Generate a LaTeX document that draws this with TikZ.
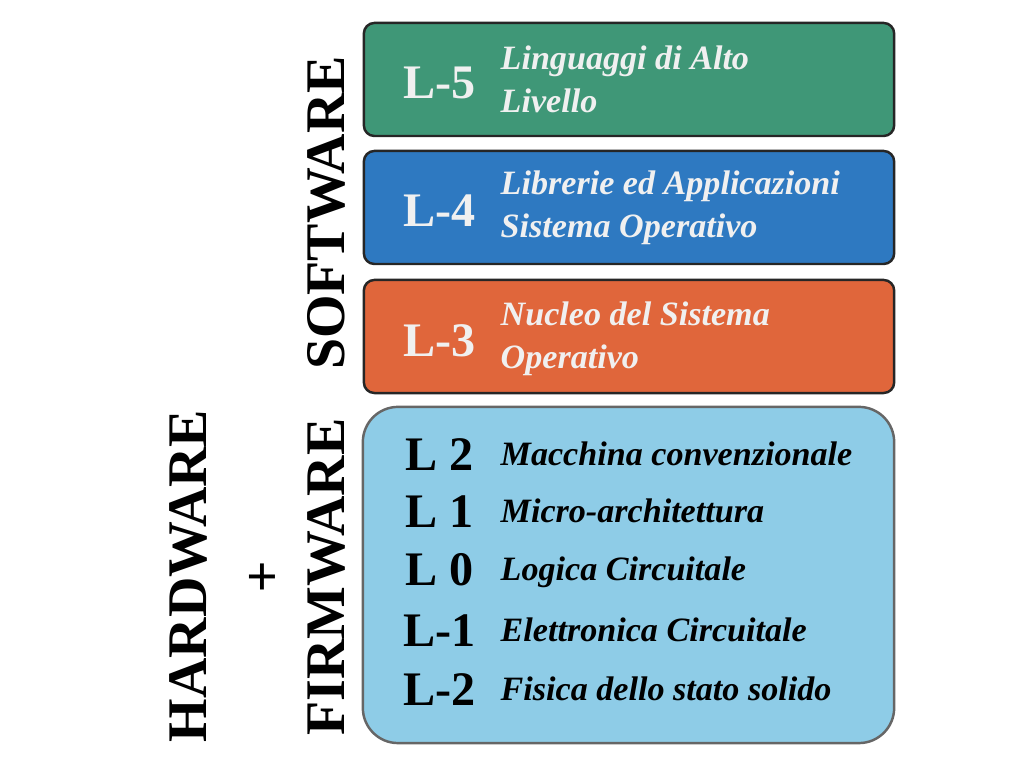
\documentclass[tikz,border=0pt]{standalone}
\usepackage{fontspec}
\setmainfont{Liberation Serif}
\usepackage{tikz}

\definecolor{altolivello}{HTML}{3F9777}
\definecolor{librerie}{HTML}{2E79C1}
\definecolor{nucleo}{HTML}{E0663B}
\definecolor{firmware}{HTML}{8ECCE7}
\definecolor{chiaro}{HTML}{F0F0F0}

\tikzset{
  livello/.style={draw=black!85, line width=.7pt, rounded corners=3pt, minimum width=5.3cm, minimum height=1.13cm},
  sigla/.style={font=\bfseries\fontsize{13.7}{16}\selectfont, inner sep=0pt, anchor=base west},
  descr/.style={font=\bfseries\itshape\fontsize{9.7}{12.4}\selectfont, align=left, inner sep=0pt, anchor=base west},
  lato/.style={font=\bfseries\fontsize{15.9}{18}\selectfont, rotate=90, inner sep=0pt}
}

\begin{document}
\begin{tikzpicture}[x=.01cm, y=-.01cm]
  \path[use as bounding box](0, 0)rectangle(1024, 768);
  % software
  \node[livello, fill=altolivello](l5)at(629, 79.5){};
  \node[livello, fill=librerie](l4)at(629, 207.5){};
  \node[livello, fill=nucleo](l3)at(629, 336.5){};
  \node[sigla, text=chiaro](l5s)at(403, 99){L-5};
  \node[descr, text=chiaro](l5t)at(500, 113){Linguaggi di Alto\\Livello};
  \node[sigla, text=chiaro](l4s)at(403, 227){L-4};
  \node[descr, text=chiaro](l4t)at(500, 238){Librerie ed Applicazioni\\Sistema Operativo};
  \node[sigla, text=chiaro](l3s)at(403, 357){L-3};
  \node[descr, text=chiaro](l3t)at(500, 369){Nucleo del Sistema\\Operativo};
  % hardware + firmware
  \node[livello, fill=firmware, draw=black!60, rounded corners=10pt, minimum width=5.31cm, minimum height=3.36cm](hw)at(628.5, 575){};
  \node[sigla](l2s)at(405, 471){L 2};
  \node[descr](l2t)at(500, 466){Macchina convenzionale};
  \node[sigla](l1s)at(405, 528){L 1};
  \node[descr](l1t)at(500, 523){Micro-architettura};
  \node[sigla](l0s)at(405, 586){L 0};
  \node[descr](l0t)at(500, 581){Logica Circuitale};
  \node[sigla](lm1s)at(403, 647){L-1};
  \node[descr](lm1t)at(500, 642){Elettronica Circuitale};
  \node[sigla](lm2s)at(403, 706){L-2};
  \node[descr](lm2t)at(500, 701){Fisica dello stato solido};
  % etichette laterali
  \node[lato](sw)at(326, 213){SOFTWARE};
  \node[lato](fw)at(326, 577){FIRMWARE};
  \node[lato](hwl)at(188, 576){HARDWARE};
  \node[font=\bfseries\fontsize{15.9}{18}\selectfont, inner sep=0pt](piu)at(262, 580){+};
\end{tikzpicture}
\end{document}
